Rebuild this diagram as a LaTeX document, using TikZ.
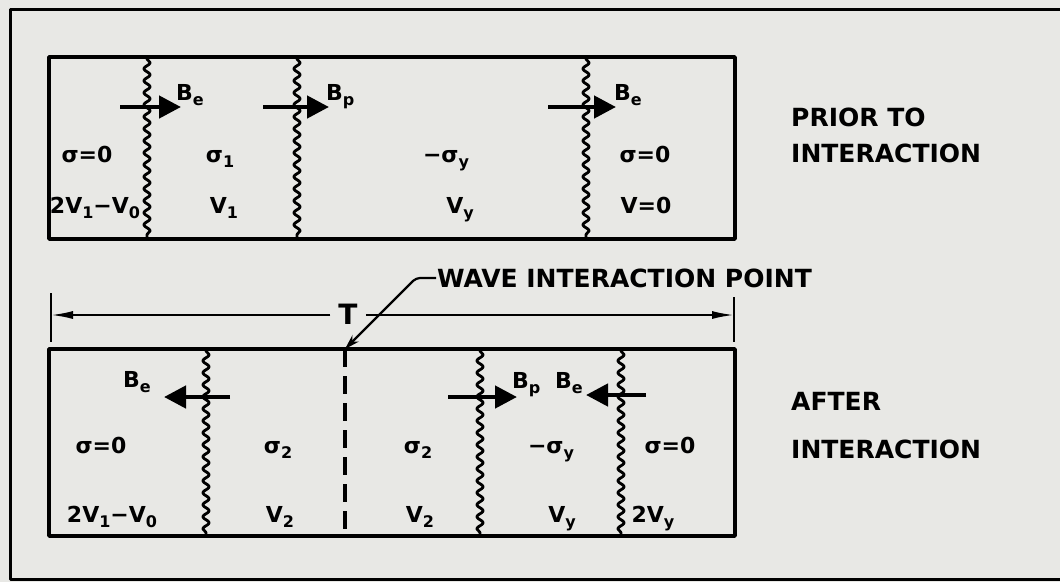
\documentclass[tikz,border=0pt]{standalone}
\usepackage{fontspec}
\setmainfont{DejaVu Sans}
\usetikzlibrary{arrows.meta,decorations.pathmorphing}
\definecolor{paper}{RGB}{232,232,229}
\newcommand\lsub[1]{\raisebox{-.45ex}{\fontsize{16}{16}\selectfont#1}}
\begin{document}
\begin{tikzpicture}[x=1pt,y=-1pt,line join=round,font=\bfseries\fontsize{22}{22}\selectfont,
	boxline/.style={line width=3.6pt},
	wave/.style={line width=2.8pt,decorate,decoration={snake,amplitude=3.2pt,segment length=12pt,pre length=2pt,post length=2pt}},
	bigarrow/.style={line width=4.5pt,-{Triangle[length=22pt,width=22pt]}},
	cell/.style={inner sep=0pt,anchor=base},
	blabel/.style={inner sep=0pt,anchor=base west},
	note/.style={inner sep=0pt,anchor=base west,font=\bfseries\fontsize{25}{25}\selectfont}]
	\useasboundingbox (0,0) rectangle (1060,582);
	\fill[paper] (0,0) rectangle (1060,582);
	\def\xl{49} \def\xr{735}
	\def\ya{57} \def\yb{239} \def\yc{349} \def\yd{536}
	% frame
	\draw[line width=3pt] (1060,9)--(10,9)--(10,579)--(1060,579);
	% prior to interaction
	\draw[boxline] (\xl,\ya) rectangle (\xr,\yb);
	\foreach \x in {147,297,586} \draw[wave] (\x,\ya)--(\x,\yb);
	\draw[bigarrow] (120,107)--(181,107);
	\draw[bigarrow] (263,107)--(329,107);
	\draw[bigarrow] (548,107)--(616,107);
	\node[blabel] (be1) at (176,100) {B\lsub{e}};
	\node[blabel] (bp1) at (326,100) {B\lsub{p}};
	\node[blabel] (be2) at (614,100) {B\lsub{e}};
	\node[cell] (s1) at (87,162) {σ=0};
	\node[cell] (v1) at (95,213) {2V\lsub{1}−V\lsub{0}};
	\node[cell] (s2) at (220,162) {σ\lsub{1}};
	\node[cell] (v2) at (224,213) {V\lsub{1}};
	\node[cell] (s3) at (446,162) {−σ\lsub{y}};
	\node[cell] (v3) at (460,213) {V\lsub{y}};
	\node[cell] (s4) at (645,162) {σ=0};
	\node[cell] (v4) at (646,213) {V=0};
	\node[note] (prior) at (791,126) {PRIOR TO};
	\node[note] (prior2) at (791,162) {INTERACTION};
	% dimension T
	\coordinate (dl) at (51,315);
	\coordinate (dr) at (734,315);
	\draw[line width=2pt] (51,293)--(51,342) (734,297)--(734,342);
	\node[inner sep=0pt,inner xsep=8pt,font=\bfseries\fontsize{28}{28}\selectfont] (T) at (348,314) {T};
	\draw[line width=2pt,-{Latex[length=22pt,width=8pt]}] (T.west|-dl)--(dl);
	\draw[line width=2pt,-{Latex[length=22pt,width=8pt]}] (T.east|-dr)--(dr);
	% interaction point
	\node[note] (wip) at (437,287) {WAVE INTERACTION POINT};
	\coordinate (ipt) at (345,349);
	\draw[line width=2.2pt,rounded corners=4pt,-{Stealth[length=15pt,width=9pt]}] ([xshift=-1pt]wip.west)--(416,278)--(ipt);
	% after interaction
	\draw[boxline] (\xl,\yc) rectangle (\xr,\yd);
	\foreach \x in {206,480,621} \draw[wave] (\x,\yc)--(\x,\yd);
	\draw[line width=4pt,dash pattern=on 18pt off 9pt] (ipt)--(345,\yd);
	\draw[bigarrow] (230,397)--(164,397);
	\draw[bigarrow] (448,397)--(517,397);
	\draw[bigarrow] (646,395)--(586,395);
	\node[blabel] (be3) at (123,387) {B\lsub{e}};
	\node[blabel] (bp2) at (512,388) {B\lsub{p}};
	\node[blabel] (be4) at (555,388) {B\lsub{e}};
	\node[cell] (t1) at (101,453) {σ=0};
	\node[cell] (w1) at (112,522) {2V\lsub{1}−V\lsub{0}};
	\node[cell] (t2) at (278,453) {σ\lsub{2}};
	\node[cell] (w2) at (280,522) {V\lsub{2}};
	\node[cell] (t3) at (418,453) {σ\lsub{2}};
	\node[cell] (w3) at (420,522) {V\lsub{2}};
	\node[cell] (t4) at (551,453) {−σ\lsub{y}};
	\node[cell] (w4) at (562,522) {V\lsub{y}};
	\node[cell] (t5) at (670,453) {σ=0};
	\node[cell] (w5) at (653,522) {2V\lsub{y}};
	\node[note] (after) at (791,410) {AFTER};
	\node[note] (after2) at (791,458) {INTERACTION};
\end{tikzpicture}
\end{document}
